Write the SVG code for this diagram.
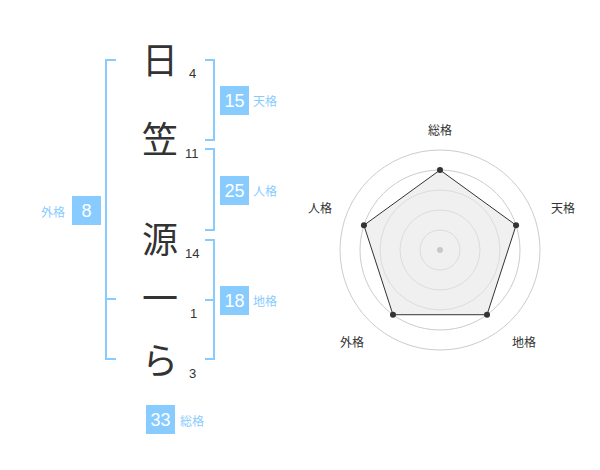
<svg xmlns="http://www.w3.org/2000/svg" width="600" height="470" viewBox="0 0 600 470">
<style>
.ch{font-family:"Noto Sans CJK JP","Noto Sans CJK SC",sans-serif;font-size:36px;fill:#333;text-anchor:middle}
.num{font-family:"Liberation Sans",Arial,sans-serif;font-size:13px;fill:#333}
.br{fill:none;stroke:#88ccff;stroke-width:2}
.box{fill:#88ccff}
.bn{font-family:"Liberation Sans",Arial,sans-serif;font-size:18px;fill:#fff;text-anchor:middle}
.lb{font-family:"Noto Sans CJK JP","Noto Sans CJK SC",sans-serif;font-size:12px;fill:#88ccff}
.ring{fill:none;stroke:#cccccc;stroke-width:1}
.rl{font-family:"Noto Sans CJK JP","Noto Sans CJK SC",sans-serif;font-size:12px;fill:#333;text-anchor:middle}
.dot{fill:#333}
</style>
<rect width="600" height="470" fill="#fff"/>
<g id="chars">
<text class="ch" x="160" y="74">日</text>
<text class="ch" x="160" y="153">笠</text>
<text class="ch" x="160" y="253">源</text>
<text class="ch" x="160" y="312">一</text>
<text class="ch" x="160" y="374">ら</text>
<text class="num" x="189" y="78">4</text>
<text class="num" x="185" y="158">11</text>
<text class="num" x="185" y="258">14</text>
<text class="num" x="190" y="318">1</text>
<text class="num" x="189" y="378">3</text>
</g>
<g id="connectors">
<path class="br" d="M116,60 H106 V359 H116 M106,299 H116"/>
<path class="br" d="M205,60 H214 V140 H205"/>
<path class="br" d="M205,149 H214 V230 H205"/>
<path class="br" d="M205,240 H214 V359 H205 M205,300 H214"/>
</g>
<g id="tenkaku">
<rect class="box" x="220" y="86" width="29" height="29"/>
<text class="bn" x="234.5" y="107">15</text>
<text class="lb" x="253" y="106">天格</text>
</g>
<g id="jinkaku">
<rect class="box" x="220" y="176" width="29" height="29"/>
<text class="bn" x="234.5" y="197">25</text>
<text class="lb" x="253" y="196">人格</text>
</g>
<g id="chikaku">
<rect class="box" x="220" y="286" width="29" height="29"/>
<text class="bn" x="234.5" y="307">18</text>
<text class="lb" x="253" y="306">地格</text>
</g>
<g id="gaikaku">
<rect class="box" x="72" y="196" width="29" height="29"/>
<text class="bn" x="86.5" y="217">8</text>
<text class="lb" x="41" y="217">外格</text>
</g>
<g id="soukaku">
<rect class="box" x="146" y="405" width="29" height="29"/>
<text class="bn" x="160.5" y="426">33</text>
<text class="lb" x="180" y="426">総格</text>
</g>
<g id="radar">
<circle class="ring" cx="440" cy="250" r="20"/>
<circle class="ring" cx="440" cy="250" r="40"/>
<circle class="ring" cx="440" cy="250" r="60"/>
<circle class="ring" cx="440" cy="250" r="80"/>
<circle class="ring" cx="440" cy="250" r="100"/>
<polygon points="440,170 516.08,225.28 487.02,314.72 392.98,314.72 363.92,225.28" fill="#e6e6e6" fill-opacity="0.6" stroke="#333" stroke-width="1"/>
<circle cx="440" cy="250" r="3" fill="#c8c8c8"/>
<circle class="dot" cx="440" cy="170" r="3"/>
<circle class="dot" cx="516.08" cy="225.28" r="3"/>
<circle class="dot" cx="487.02" cy="314.72" r="3"/>
<circle class="dot" cx="392.98" cy="314.72" r="3"/>
<circle class="dot" cx="363.92" cy="225.28" r="3"/>
<text class="rl" x="440" y="135">総格</text>
<text class="rl" x="563" y="213">天格</text>
<text class="rl" x="320" y="213">人格</text>
<text class="rl" x="352" y="347">外格</text>
<text class="rl" x="524" y="347">地格</text>
</g>
</svg>
